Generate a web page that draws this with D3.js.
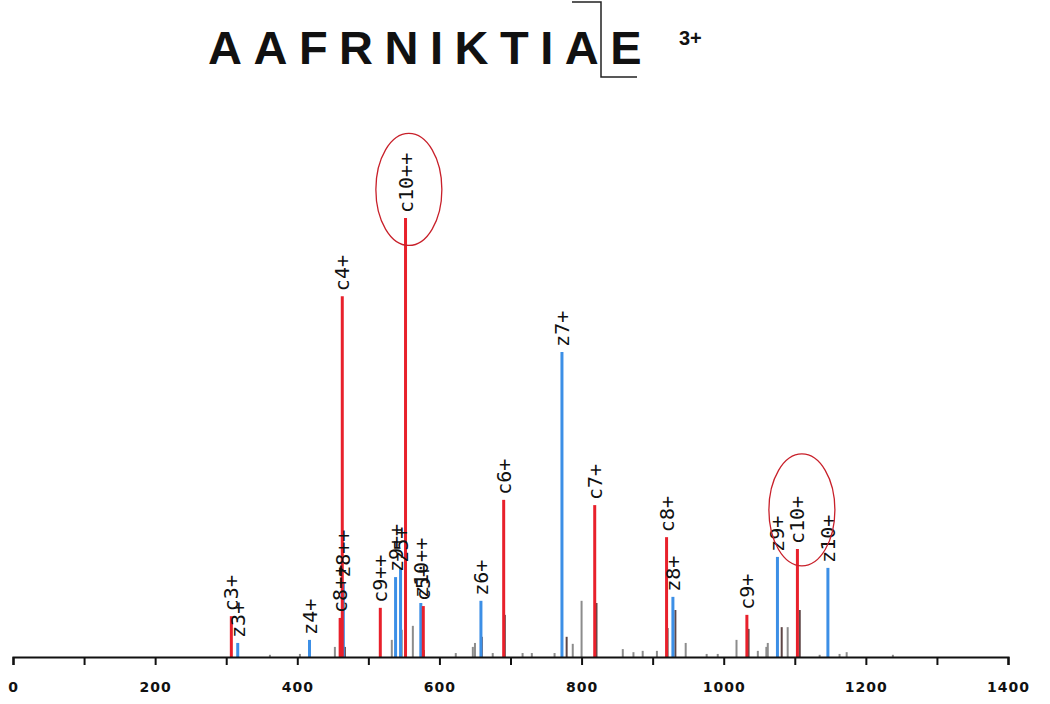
<!DOCTYPE html>
<html>
<head>
<meta charset="utf-8">
<script src="https://cdn.jsdelivr.net/npm/d3@7"></script>
<style>
  html, body { margin: 0; padding: 0; background: #fff; }
  svg { display: block; }
</style>
</head>
<body>
<svg width="1050" height="704"></svg>
<script>
// sequence shown in the header
const sequence = ["A","A","F","R","N","I","K","T","I","A","E"];
const chargeLabel = "3+";

// annotated fragment ions: name, m/z, relative intensity, series (c = red, z = blue)
const ionNames = ["c3+","z3+","z4+","c8++","z8++","c4+","c9++","z9++","z5+","c10++","z10++","c5+",
                  "z6+","c6+","z7+","c7+","c8+","z8+","c9+","z9+","c10+","z10+"];
const ionMz    = [307.2,316.2,417.2,460.3,464.8,463.3,516.8,538.3,545.3,552.3,573.8,577.3,
                  658.4,690.4,772.4,818.5,919.6,928.5,1032.6,1075.6,1103.7,1146.6];
const ionInt   = [9.3,3.2,3.9,8.9,16.9,82.2,11.2,18.2,20.3,100,12.3,11.6,
                  12.8,35.8,69.5,34.6,27.3,13.7,9.6,22.8,24.6,20.3];

// unassigned peaks: m/z, relative intensity, shade (g = grey, d = dark isotope)
const otherMz  = [361.5,403.7,452.9,467,533,547,562.6,578,623,647,650,659.6,675,692,717,730,762,
                  779,787.6,800,821,858,873,886,906,921,932,946.5,976,991.6,1018,1035,1048,1060,
                  1062,1081.6,1090,1107,1135,1163,1173,1238];
const otherInt = [0.5,0.7,2.3,2.3,3.9,6.2,7.1,1.6,0.9,2.3,3.2,4.6,0.9,9.6,0.9,0.9,0.9,
                  4.6,3.0,12.8,12.3,1.8,1.1,1.4,1.4,6.6,10.7,3.2,0.7,0.7,3.9,6.4,1.4,2.3,
                  3.2,6.8,6.8,10.7,0.5,0.7,1.1,0.5];
const otherTone= ["g","g","g","d","g","g","g","d","g","g","g","d","g","d","g","g","g",
                  "d","g","g","d","g","g","g","g","d","d","g","g","g","g","d","g","g",
                  "g","d","g","d","g","g","g","g"];

// circled labels (m/z, intensity of the centre)
const circleMz  = [557, 1110];
const circleInt = [106.5, 33.5];

const xTicks = d3.range(0, 1401, 100);

const svg = d3.select("svg");
const x = d3.scaleLinear().domain([0, 1400]).range([13, 1008]);
const y = d3.scaleLinear().domain([0, 100]).range([657, 218]);

const colors = { c: "#e8202b", z: "#3c8fe6", g: "#8c8c8c", d: "#5e4646" };

// ---- header
svg.append("text")
    .attr("x", 208).attr("y", 64)
    .attr("font-family", "Liberation Sans, Arial, sans-serif")
    .attr("font-weight", "bold")
    .attr("font-size", 47)
    .attr("letter-spacing", 11.5)
    .attr("fill", "#111")
    .text(sequence.join(""));

svg.append("text")
    .attr("x", 679).attr("y", 45)
    .attr("font-family", "Liberation Sans, Arial, sans-serif")
    .attr("font-weight", "bold")
    .attr("font-size", 20)
    .attr("fill", "#111")
    .text(chargeLabel);

// cleavage bracket before the last residue
svg.append("path")
    .attr("d", "M572,2H601V77H637")
    .attr("fill", "none")
    .attr("stroke", "#222")
    .attr("stroke-width", 1.5);

// ---- peaks
const plot = svg.append("g");

plot.append("g")
  .selectAll("line")
  .data(otherMz.map((mz, i) => ({ mz, v: otherInt[i], t: otherTone[i] })))
  .join("line")
    .attr("x1", d => x(d.mz)).attr("x2", d => x(d.mz))
    .attr("y1", y(0)).attr("y2", d => y(d.v))
    .attr("stroke", d => colors[d.t])
    .attr("stroke-width", 2);

const ions = ionNames.map((name, i) => ({ name, mz: ionMz[i], v: ionInt[i], s: name[0] }));

plot.append("g")
  .selectAll("line")
  .data(ions)
  .join("line")
    .attr("x1", d => x(d.mz)).attr("x2", d => x(d.mz))
    .attr("y1", y(0)).attr("y2", d => y(d.v))
    .attr("stroke", d => colors[d.s])
    .attr("stroke-width", 3);

plot.append("g")
  .selectAll("text")
  .data(ions)
  .join("text")
    .attr("transform", d => `translate(${x(d.mz)},${y(d.v) - 5}) rotate(-90)`)
    .attr("dy", "0.35em")
    .attr("font-family", "DejaVu Sans Mono, monospace")
    .attr("font-size", 20)
    .attr("fill", "#111")
    .text(d => d.name);

// circles around the ions of interest
svg.append("g")
  .selectAll("ellipse")
  .data(circleMz.map((mz, i) => ({ mz, v: circleInt[i] })))
  .join("ellipse")
    .attr("cx", d => x(d.mz)).attr("cy", d => y(d.v))
    .attr("rx", 33).attr("ry", 56)
    .attr("fill", "none")
    .attr("stroke", "#c8202a")
    .attr("stroke-width", 1.3);

// ---- x axis
const axis = svg.append("g")
    .attr("transform", `translate(0,${y(0)})`)
    .call(d3.axisBottom(x)
      .tickValues(xTicks)
      .tickSize(8)
      .tickPadding(17)
      .tickFormat(d => d % 200 === 0 ? d : ""));

axis.select(".domain").attr("stroke", "#111").attr("stroke-width", 2.2);
axis.selectAll(".tick line").attr("stroke", "#111").attr("stroke-width", 2);
axis.selectAll(".tick text")
    .attr("font-family", "DejaVu Sans, sans-serif")
    .attr("font-weight", "bold")
    .attr("font-size", 14)
    .attr("letter-spacing", 1)
    .attr("fill", "#111");
</script>
</body>
</html>
